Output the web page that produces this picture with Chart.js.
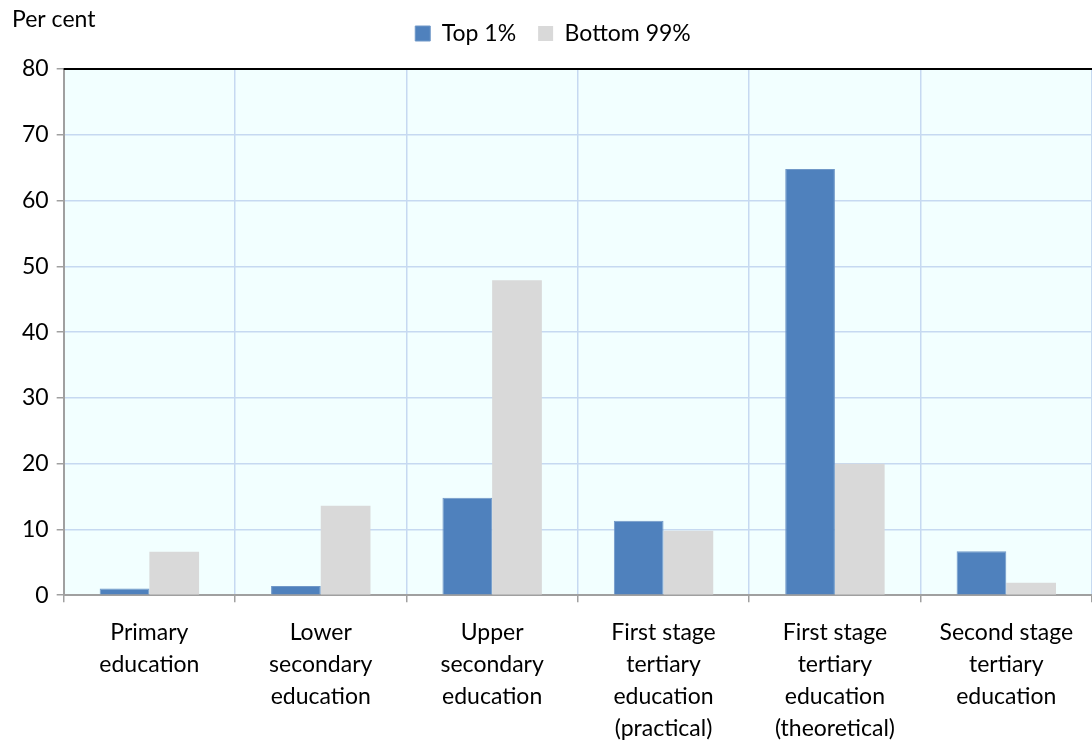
<!DOCTYPE html>
<html>
<head>
<meta charset="utf-8">
<script src="https://cdn.jsdelivr.net/npm/chart.js@4"></script>
<style>
  html, body { margin: 0; padding: 0; background: #fff; }
  #wrap { width: 1092px; height: 742px; }
</style>
</head>
<body>
<div id="wrap"><canvas id="edu-chart" width="1092" height="742"></canvas></div>
<script>
// education level shares, per cent
const categories = [
  ['Primary', 'education'],
  ['Lower', 'secondary', 'education'],
  ['Upper', 'secondary', 'education'],
  ['First stage', 'tertiary', 'education', '(practical)'],
  ['First stage', 'tertiary', 'education', '(theoretical)'],
  ['Second stage', 'tertiary', 'education']
];
const top1 = [1.0, 1.4, 14.8, 11.3, 64.8, 6.7];
const bottom99 = [6.6, 13.6, 47.9, 9.8, 20.0, 1.9];
const yTicks = [0, 10, 20, 30, 40, 50, 60, 70, 80];

const FONT = "Lato, 'Open Sans', sans-serif";
const FSIZE = 23;

// fill plot background, top border line, "Per cent" label
const decor = {
  id: 'decor',
  beforeLayout(chart) {
    // leave a bit more room under the legend
    const lg = chart.legend;
    if (lg && !lg._padded) {
      const fit = lg.fit;
      lg.fit = function () {
        fit.call(this);
        this.height += 14;
      };
      lg._padded = true;
    }
  },
  beforeDraw(chart) {
    const { ctx, chartArea: a } = chart;
    ctx.save();
    ctx.fillStyle = '#F2FFFF';
    ctx.fillRect(a.left, a.top, a.right - a.left, a.bottom - a.top);
    ctx.restore();
  },
  afterDraw(chart) {
    const { ctx, chartArea: a } = chart;
    ctx.save();
    ctx.strokeStyle = '#000';
    ctx.lineWidth = 2;
    ctx.beginPath();
    ctx.moveTo(a.left, a.top);
    ctx.lineTo(a.right, a.top);
    ctx.stroke();
    ctx.fillStyle = '#000';
    ctx.font = FSIZE + 'px ' + FONT;
    ctx.textBaseline = 'alphabetic';
    ctx.fillText('Per cent', 12, 27);
    ctx.restore();
  }
};

new Chart(document.getElementById('edu-chart'), {
  type: 'bar',
  data: {
    labels: categories,
    datasets: [
      {
        label: 'Top 1%',
        data: top1,
        backgroundColor: '#4F81BD',
        borderColor: '#7098C8',
        borderWidth: 1
      },
      {
        label: 'Bottom 99%',
        data: bottom99,
        backgroundColor: '#D9D9D9',
        borderWidth: 0
      }
    ]
  },
  options: {
    responsive: false,
    animation: false,
    layout: { padding: { left: 14, right: 0, top: 0, bottom: -17 } },
    datasets: { bar: { categoryPercentage: 0.58, barPercentage: 1.0 } },
    plugins: {
      legend: {
        position: 'top',
        align: 'center',
        labels: {
          font: { family: FONT, size: FSIZE },
          color: '#000',
          boxWidth: 15,
          boxHeight: 15,
          padding: 22,
          useBorderRadius: false
        }
      },
      tooltip: { enabled: false }
    },
    scales: {
      x: {
        grid: {
          offset: true,
          color: '#C6D9F1',
          lineWidth: 1.5,
          tickColor: '#A0A0A0',
          tickLength: 7,
          drawTicks: true
        },
        border: { color: '#A0A0A0', width: 2 },
        ticks: {
          color: '#000',
          font: { family: FONT, size: FSIZE, lineHeight: 1.4 },
          padding: 14,
          maxRotation: 0,
          autoSkip: false
        }
      },
      y: {
        min: 0,
        max: 80,
        afterBuildTicks(scale) {
          scale.ticks = yTicks.map(v => ({ value: v }));
        },
        grid: {
          color: '#C6D9F1',
          lineWidth: 1.5,
          tickColor: '#A0A0A0',
          tickLength: 7
        },
        border: { color: '#A0A0A0', width: 2 },
        ticks: {
          color: '#000',
          font: { family: FONT, size: FSIZE },
          padding: 8
        }
      }
    }
  },
  plugins: [decor]
});
</script>
</body>
</html>
